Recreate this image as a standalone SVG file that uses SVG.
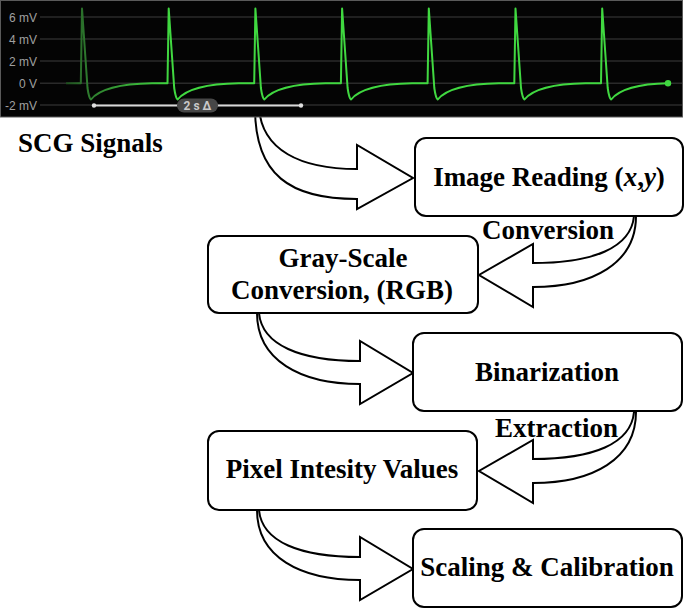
<svg xmlns="http://www.w3.org/2000/svg" width="685" height="611" viewBox="0 0 685 611">
<style>
.box{fill:#fff;stroke:#000;stroke-width:2}
.arr{fill:#fff;stroke:#000;stroke-width:2;stroke-linejoin:miter}
.t{font-family:"Liberation Serif","Times New Roman",serif;font-weight:bold;font-size:27px;fill:#000}
.grid{stroke:#2a2a2a;stroke-width:1.5}
.ax{font-family:"Liberation Sans",Arial,sans-serif;font-size:12px;fill:#a0a0a0;text-anchor:end}
</style>
<defs>
<linearGradient id="wg" gradientUnits="userSpaceOnUse" x1="66" y1="0" x2="170" y2="0">
<stop offset="0" stop-color="#1e4d1e"/>
<stop offset="0.2" stop-color="#2e7a2e"/>
<stop offset="1" stop-color="#40d840"/>
</linearGradient>
</defs>
<g id="connectors">
<path class="arr" d="M 259,108 C 262,150 300,169 357,169 L 357,145 L 413,178 L 357,209 L 357,199 C 290,199 255,175 255,108 Z"/>
<path class="arr" d="M 634,216 C 631,248 593,263 533,263 L 533,244 L 479,275 L 533,307 L 533,287 C 593,287 636,263 636,216 Z"/>
<path class="arr" d="M 259,313 C 262,345 300,361 360,361 L 360,341 L 413,373 L 360,404 L 360,384 C 300,384 257,360 257,313 Z"/>
<path class="arr" d="M 634,412 C 631,444 593,459 533,459 L 533,440 L 479,471 L 533,503 L 533,483 C 593,483 636,459 636,412 Z"/>
<path class="arr" d="M 259,510 C 262,542 300,557 360,557 L 360,537 L 413,569 L 360,600 L 360,580 C 300,580 257,557 257,510 Z"/>
<text class="t" x="482" y="238.5">Conversion</text>
<text class="t" x="495" y="437">Extraction</text>
</g>
<g id="scg-signals">
<rect x="0.5" y="0.5" width="682" height="116.5" fill="#040404" stroke="#5a5a5a" stroke-width="1"/>
<line class="grid" x1="40" y1="17" x2="682" y2="17"/>
<line class="grid" x1="40" y1="39" x2="682" y2="39"/>
<line class="grid" x1="40" y1="61" x2="682" y2="61"/>
<line class="grid" x1="40" y1="83.3" x2="682" y2="83.3"/>
<line class="grid" x1="40" y1="105" x2="682" y2="105"/>
<text class="ax" x="37" y="21.5">6 mV</text>
<text class="ax" x="37" y="43.5">4 mV</text>
<text class="ax" x="37" y="65.5">2 mV</text>
<text class="ax" x="37" y="87.5">0 V</text>
<text class="ax" x="37" y="109.5">-2 mV</text>
<path fill="none" stroke="url(#wg)" stroke-width="2" stroke-linejoin="round" d="M 66,83.3 L 80.8,83.3 L 82,8.5 L 87.5,88 Q 89,98.5 91,99.5 C 97,92 112,84 152,83.3 L 167.5,83.3 L 168.7,8.5 L 174.2,88 Q 175.7,98.5 177.7,99.5 C 183.7,92 198.7,84 238.7,83.3 L 254.2,83.3 L 255.4,8.5 L 260.9,88 Q 262.4,98.5 264.4,99.5 C 270.4,92 285.4,84 325.4,83.3 L 340.9,83.3 L 342.1,8.5 L 347.6,88 Q 349.1,98.5 351.1,99.5 C 357.1,92 372.1,84 412.1,83.3 L 427.6,83.3 L 428.8,8.5 L 434.3,88 Q 435.8,98.5 437.8,99.5 C 443.8,92 458.8,84 498.8,83.3 L 514.3,83.3 L 515.5,8.5 L 521,88 Q 522.5,98.5 524.5,99.5 C 530.5,92 545.5,84 585.5,83.3 L 601,83.3 L 602.2,8.5 L 607.7,88 Q 609.2,98.5 611.2,99.5 C 617.2,92 632.2,84 668,83.3"/>
<circle cx="668" cy="83.3" r="3.2" fill="#40d840"/>
<line x1="94" y1="105.5" x2="301" y2="105.5" stroke="#d8d8d8" stroke-width="2"/>
<circle cx="94" cy="105.5" r="2.2" fill="#e0e0e0"/>
<circle cx="301" cy="105.5" r="2.2" fill="#e0e0e0"/>
<rect x="177" y="98.5" width="41" height="14" rx="7" fill="#474747"/>
<text x="197.5" y="110" text-anchor="middle" font-family="Roboto,'Liberation Sans',sans-serif" font-weight="bold" font-size="12" fill="#c8c8c8">2 s Δ</text>
<text class="t" x="18" y="152">SCG Signals</text>
</g>
<g id="image-reading">
<rect class="box" x="415" y="138" width="268" height="78" rx="11"/>
<text class="t" x="549" y="186" text-anchor="middle">Image Reading (<tspan font-style="italic">x</tspan>,<tspan font-style="italic">y</tspan>)</text>
</g>
<g id="gray-scale">
<rect class="box" x="208" y="236" width="270" height="77" rx="11"/>
<text class="t" x="343" y="266.5" text-anchor="middle">Gray-Scale</text>
<text class="t" x="342" y="298.5" text-anchor="middle">Conversion, (RGB)</text>
</g>
<g id="binarization">
<rect class="box" x="413" y="333" width="269" height="78" rx="11"/>
<text class="t" x="547" y="380.5" text-anchor="middle">Binarization</text>
</g>
<g id="pixel-intensity">
<rect class="box" x="208" y="431" width="269" height="79" rx="11"/>
<text class="t" x="342" y="477.5" text-anchor="middle">Pixel Intesity Values</text>
</g>
<g id="scaling">
<rect class="box" x="413" y="529" width="269" height="78" rx="11"/>
<text class="t" x="547" y="576" text-anchor="middle">Scaling &amp; Calibration</text>
</g>
</svg>
